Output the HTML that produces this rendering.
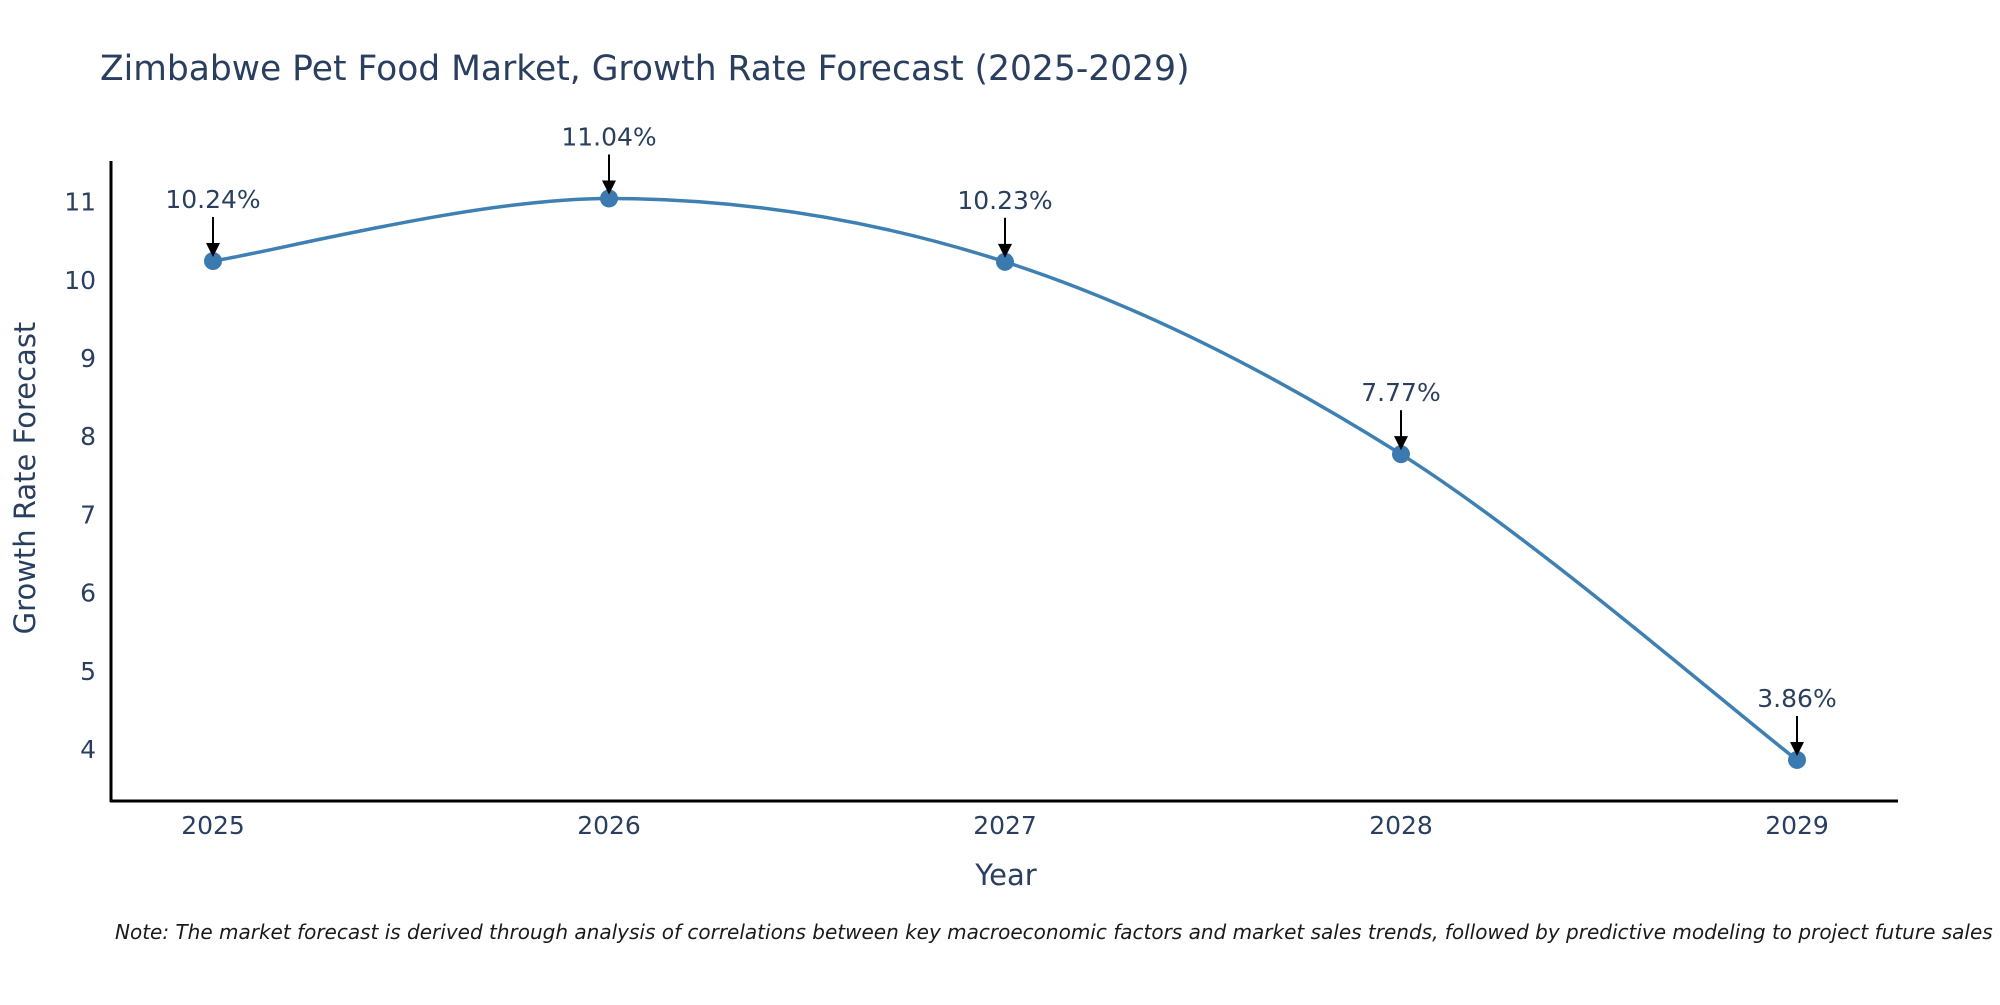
<!DOCTYPE html>
<html><head><meta charset="utf-8"><style>
body{margin:0;background:#fff;}
svg text{font-family:"DejaVu Sans","Liberation Sans",sans-serif;fill:#2a3f5f;}
</style></head><body>
<svg id="chart" width="2000" height="1000" viewBox="0 0 2000 1000">
<text x="100" y="80" font-size="34.5">Zimbabwe Pet Food Market, Growth Rate Forecast (2025-2029)</text>
<g id="yticks"></g>
<g id="xticks"></g>
<line x1="111" y1="161" x2="111" y2="802" stroke="#000" stroke-width="3"/>
<line x1="110" y1="801" x2="1898" y2="801" stroke="#000" stroke-width="3"/>
<g id="series"></g>
<text x="1006" y="885" font-size="29" text-anchor="middle">Year</text>
<text transform="translate(35,478) rotate(-90)" font-size="29" text-anchor="middle">Growth Rate Forecast</text>
<text x="115" y="939" font-size="20" font-style="italic" style="fill:#1a1a1a">Note: The market forecast is derived through analysis of correlations between key macroeconomic factors and market sales trends, followed by predictive modeling to project future sales</text>
</svg>
<script>
const categories = ["2025","2026","2027","2028","2029"];
const values = [10.24, 11.04, 10.23, 7.77, 3.86];
const valueLabels = ["10.24%","11.04%","10.23%","7.77%","3.86%"];
const yTickValues = [4,5,6,7,8,9,10,11];

const NS = "http://www.w3.org/2000/svg";
const x = i => 213 + i * (1797 - 213) / (categories.length - 1);
const y = v => 749 - (v - 4) * 78.2;
function mk(tag, attrs, parent){const e=document.createElementNS(NS,tag);for(const k in attrs)e.setAttribute(k,attrs[k]);parent.appendChild(e);return e;}

const yt=document.getElementById('yticks');
yTickValues.forEach(v=>{
  const t=mk('text',{x:96,y:y(v)+9,'font-size':25,'text-anchor':'end'},yt);
  
  
  t.textContent=v;
});
const xt=document.getElementById('xticks');
categories.forEach((c,i)=>{
  const t=mk('text',{x:x(i),y:834,'font-size':25,'text-anchor':'middle'},xt);
  
  
  t.textContent=c;
});

const s=document.getElementById('series');
const pts=values.map((v,i)=>[x(i),y(v)]);
let d=`M${pts[0][0]},${pts[0][1]}`;
for(let i=0;i<pts.length-1;i++){
  const p0=pts[Math.max(0,i-1)],p1=pts[i],p2=pts[i+1],p3=pts[Math.min(pts.length-1,i+2)];
  const k=1/6;
  d+=` C${p1[0]+(p2[0]-p0[0])*k},${p1[1]+(p2[1]-p0[1])*k} ${p2[0]-(p3[0]-p1[0])*k},${p2[1]-(p3[1]-p1[1])*k} ${p2[0]},${p2[1]}`;
}
const line=mk('path',{d:d,fill:'none',stroke:'#3f80b2','stroke-width':3.5},s);


pts.forEach((p,i)=>{
  const c=mk('circle',{cx:p[0],cy:p[1],r:9,fill:'#3a7ab0'},s);
  
  
  const a=mk('line',{x1:p[0],y1:p[1]-44,x2:p[0],y2:p[1]-16,stroke:'#000','stroke-width':2},s);
  
  
  const h=mk('polygon',{points:`${p[0]-7},${p[1]-18} ${p[0]+7},${p[1]-18} ${p[0]},${p[1]-4}`,fill:'#000'},s);
  
  
  const t=mk('text',{x:p[0],y:p[1]-53,'font-size':25,'text-anchor':'middle'},s);
  
  
  t.textContent=valueLabels[i];
});
</script>
</body></html>
